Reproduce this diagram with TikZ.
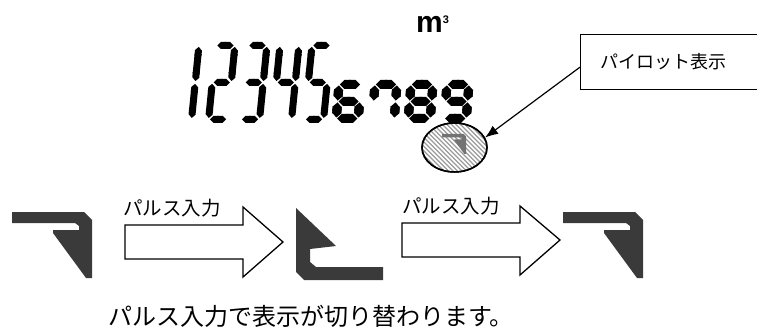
\documentclass[tikz,border=0pt]{standalone}
\usepackage{fontspec}
\setmainfont{Liberation Sans}
\newfontfamily\jafont{Noto Sans CJK JP}
\usetikzlibrary{arrows.meta,shapes.geometric}

\definecolor{lcdgray}{HTML}{3A3A3A}
\definecolor{hatchgray}{HTML}{9A9A9A}

\tikzset{
  lcdseg/.style 2 args={line width=#1, {Triangle Cap}-{Triangle Cap}, shorten <=#2*#1, shorten >=#2*#1},
  bigdigit/.style={xslant=0.1, xscale=19, yscale=37, lcdseg={7pt}{0.2}},
  smalldigit/.style={xslant=0.08, xscale=22, yscale=17, lcdseg={9pt}{0.1}},
  pics/lcd/.style={code={
    \coordinate (tl) at (0,0); \coordinate (tr) at (1,0);
    \coordinate (ml) at (0,1); \coordinate (mr) at (1,1);
    \coordinate (bl) at (0,2); \coordinate (br) at (1,2);
    \foreach \p/\q in {#1} \draw[pic actions] (\p) -- (\q);
  }},
  pics/pulsemark/.style={code={
    \fill[pic actions] (0,0) -- (72,0) -- (80,8) -- (80,66) -- (74,66) -- (41,21)
      -- (41,18) -- (67,18) -- (67,14) -- (63,11) -- (0,11) -- cycle;
  }},
  blockarrow/.style={draw, fill=white, line width=1.3pt, line join=miter},
  jalabel/.style={font=\jafont\fontsize{#1}{#1}\selectfont, inner sep=0pt},
}

\begin{document}
\begin{tikzpicture}[x=1pt,y=-1pt]
  \clip (0,0) rectangle (757,331);
  %% counter digits
  \begin{scope}[draw=black]
    \pic[bigdigit] at (180,45.5) {lcd={tr/mr,mr/br}};
    \pic[bigdigit] at (216,45.5) {lcd={tl/tr,tr/mr,ml/mr,ml/bl,bl/br}};
    \pic[bigdigit] at (248,45.5) {lcd={tl/tr,tr/mr,ml/mr,mr/br,bl/br}};
    \pic[bigdigit] at (280,45.5) {lcd={tl/ml,ml/mr,tr/mr,mr/br}};
    \pic[bigdigit] at (312,45.5) {lcd={tl/tr,tl/ml,ml/mr,mr/br,bl/br}};
    \pic[smalldigit] at (339,84.5) {lcd={tl/tr,tl/ml,ml/mr,ml/bl,bl/br,mr/br}};
    \pic[smalldigit] at (375,84.5) {lcd={tl/tr,tl/ml,tr/mr,mr/br}};
    \pic[smalldigit] at (411,84.5) {lcd={tl/tr,tl/ml,tr/mr,ml/mr,ml/bl,mr/br,bl/br}};
    \pic[smalldigit] at (447,84.5) {lcd={tl/tr,tl/ml,tr/mr,ml/mr,mr/br,bl/br}};
  \end{scope}
  %% unit
  \node[anchor=base west, inner sep=0pt, font=\bfseries\fontsize{30}{30}\selectfont] (unit) at (416,33)
    {m\raisebox{0.33em}{\fontsize{11}{11}\selectfont 3}};
  %% pilot mark
  \node[ellipse, draw, line width=1.5pt, minimum width=65pt, minimum height=49pt, inner sep=0pt,
    path picture={\foreach \i in {-70,-65.5,...,70}
      \draw[hatchgray, line width=1.3pt] ([xshift=\i pt-40pt, yshift=40pt]path picture bounding box.center) -- ++(80pt,-80pt);}]
    (pilotmark) at (454.5,147.5) {};
  \pic[fill=black!55, scale=0.3] at (442,134) {pulsemark};
  \draw[line width=1.5pt] (pilotmark) ellipse [x radius=32.5, y radius=24.5];
  %% pilot label
  \node[draw, line width=1.3pt, anchor=north west, minimum width=196pt, minimum height=55pt,
    text width=156pt, inner xsep=20pt, align=left, jalabel=18] (pilot) at (580,34) {パイロット表示};
  \draw[line width=1.2pt, -{Latex[length=13pt,width=10pt]}] ([yshift=-5pt]pilot.west) -- (pilotmark.18);
  %% pulse marks
  \pic[fill=lcdgray] at (12,212) {pulsemark};
  \fill[lcdgray] (296,208) -- (336,246) -- (310,249) -- (310,262) -- (316,267) -- (383,267)
    -- (383,280) -- (304,280) -- (296,272) -- cycle;
  \pic[fill=lcdgray] at (563,212) {pulsemark};
  %% pulse arrows
  \draw[blockarrow] (125,225) -- (243,225) -- (243,207) -- (283,242) -- (243,277) -- (243,259) -- (125,259) -- cycle;
  \node[jalabel=19.5, anchor=base west] (pulse1) at (123,215) {パルス入力};
  \draw[blockarrow] (402,223) -- (520,223) -- (520,206) -- (560,240) -- (520,275) -- (520,257) -- (402,257) -- cycle;
  \node[jalabel=19.5, anchor=base west] (pulse2) at (402,213) {パルス入力};
  %% caption
  \node[jalabel=24, anchor=base west] (caption) at (108,325) {パルス入力で表示が切り替わります。};
\end{tikzpicture}
\end{document}
